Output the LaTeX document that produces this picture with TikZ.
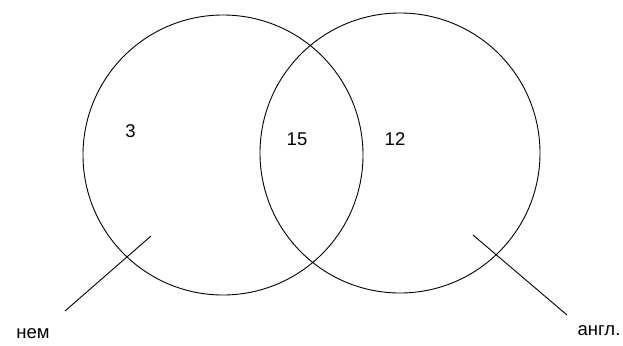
\documentclass[tikz,border=0pt]{standalone}
\usepackage{fontspec}
\setmainfont{Liberation Sans}
\begin{document}
\begin{tikzpicture}[
    x=1pt, y=-1pt,
    set/.style={circle, draw, line width=0.9pt, minimum size=280pt, inner sep=0pt},
    num/.style={font=\fontsize{18.5}{18.5}\selectfont, inner sep=0pt},
    pointer/.style={line width=0.9pt}
]
\useasboundingbox (0,0) rectangle (623,345);

\node[set] (nem) at (223,155) {};
\node[set] (angl) at (400,153) {};

\node[num] (only3) at (130.5,131) {3};
\node[num] (both15) at (297,139) {15};
\node[num] (only12) at (395,139) {12};

\node[num] (nemtext) at (33,334) {нем};
\node[num] (angltext) at (599,331) {англ.};

\coordinate (nemin) at (151,236);
\coordinate (nemout) at (65,311);
\coordinate (anglin) at (473,235);
\coordinate (anglout) at (567,315);

\draw[pointer] (nemin) -- (nemout);
\draw[pointer] (anglin) -- (anglout);

\end{tikzpicture}
\end{document}
